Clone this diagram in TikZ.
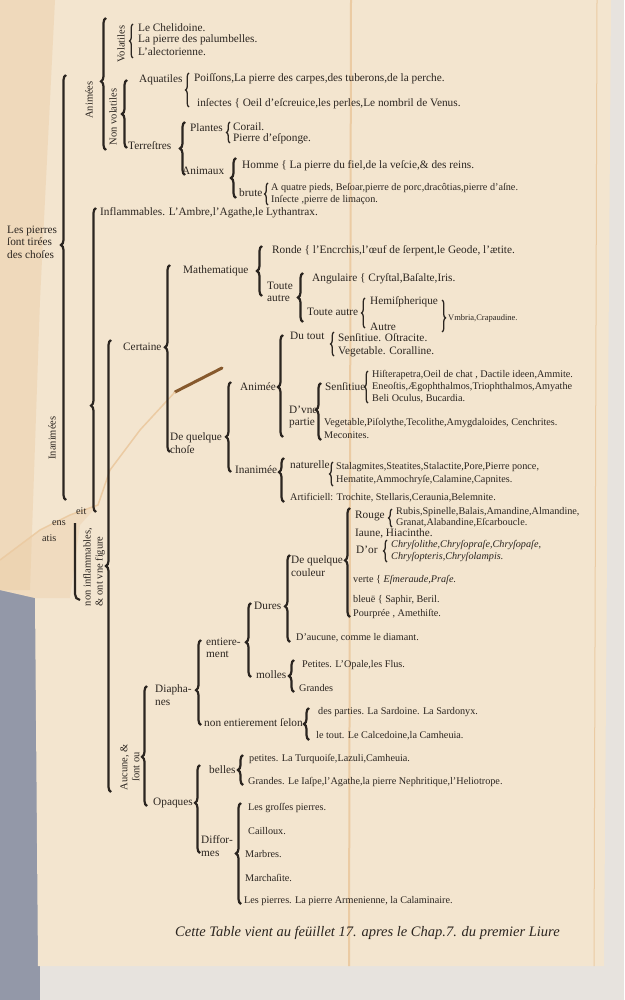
\documentclass[tikz,border=0pt]{standalone}
\usepackage{fontspec}
\setmainfont{Liberation Serif}
\usetikzlibrary{decorations.pathreplacing}

\definecolor{ink}{HTML}{2B2520}
\definecolor{paper}{HTML}{F3E5CF}
\definecolor{stain}{HTML}{EBCBA3}
\definecolor{backgr}{HTML}{E7E3DE}
\definecolor{slate}{HTML}{9398A8}

\tikzset{
  brk/.style={decorate,decoration={brace,amplitude=5pt},line width=2.2pt,draw=ink},
  sbrk/.style={decorate,decoration={brace,amplitude=3.5pt},line width=1.3pt,draw=ink},
  txt/.style={anchor=west,inner sep=0pt,text=ink,align=left,
    font=\fontsize{11.3}{12.5}\selectfont},
  stxt/.style={txt,font=\fontsize{10.2}{11.5}\selectfont},
  rot/.style={inner sep=0pt,text=ink,rotate=90,align=left,
    font=\fontsize{10.5}{12}\selectfont},
}

\begin{document}
\begin{tikzpicture}[x=1pt,y=-1pt]
    \useasboundingbox (0,0) rectangle (624,1000);

%paper
    \fill[backgr] (0,0) rectangle (624,1000);
    \fill[slate] (0,585) rectangle (40,1000);
    \fill[paper] (0,0) -- (611,0) -- (604,966) -- (38,966) -- (35,598)
        -- (0,590) -- cycle;
    \fill[stain,opacity=.45] (0,0) -- (55,0) -- (40,300) -- (30,590) -- (0,590) -- cycle;
    \fill[stain,opacity=.35] (0,560) -- (40,530) -- (70,515) -- (98,505) -- (80,525)
        -- (70,598) -- (35,598) -- (0,590) -- cycle;
    \draw[stain,line width=2pt] (351,0) -- (349,966);
    \draw[stain,line width=1pt] (597,0) -- (594,966);
    \draw[brown!70!black,line width=3pt,line cap=round] (222,368) -- (175,392);
    \draw[stain,line width=1.5pt] (175,392) -- (140,430) -- (110,470) -- (98,505)
        -- (70,515) -- (40,530) -- (0,560);

%brackets
    \coordinate (M1) at (66,500);  \coordinate (M2) at (66,75);
    \coordinate (A1) at (106,150); \coordinate (A2) at (106,18);
    \coordinate (V1) at (133,58);  \coordinate (V2) at (133,24);
    \coordinate (N1) at (127,148); \coordinate (N2) at (127,80);
    \coordinate (Q1) at (189,107); \coordinate (Q2) at (189,73);
    \coordinate (T1) at (185,175); \coordinate (T2) at (185,122);
    \coordinate (P1) at (230,143); \coordinate (P2) at (230,122);
    \coordinate (K1) at (236,198); \coordinate (K2) at (236,158);
    \coordinate (R1) at (268,205); \coordinate (R2) at (268,183);
    \coordinate (I1) at (96,512);  \coordinate (I2) at (96,208);
    \coordinate (I3) at (75,523);  \coordinate (I4) at (75,594);
    \coordinate (I5) at (80,600);
    \coordinate (F1) at (111,792); \coordinate (F2) at (111,340);
    \coordinate (C1) at (170,452); \coordinate (C2) at (170,265);
    \coordinate (H1) at (262,296); \coordinate (H2) at (262,246);
    \coordinate (U1) at (303,322); \coordinate (U2) at (303,273);
    \coordinate (W1) at (365,328); \coordinate (W2) at (365,298);
    \coordinate (W3) at (442,300); \coordinate (W4) at (442,332);
    \coordinate (D1) at (231,472); \coordinate (D2) at (231,382);
    \coordinate (E1) at (283,437); \coordinate (E2) at (283,335);
    \coordinate (O1) at (334,356); \coordinate (O2) at (334,332);
    \coordinate (G1) at (321,440); \coordinate (G2) at (321,383);
    \coordinate (S1) at (368,403); \coordinate (S2) at (368,371);
    \coordinate (J1) at (284,502); \coordinate (J2) at (284,458);
    \coordinate (L1) at (333,486); \coordinate (L2) at (333,462);
    \coordinate (X1) at (350,617); \coordinate (X2) at (350,508);
    \coordinate (Y1) at (392,527); \coordinate (Y2) at (392,509);
    \coordinate (Z1) at (387,562); \coordinate (Z2) at (387,540);
    \coordinate (B1) at (290,642); \coordinate (B2) at (290,555);
    \coordinate (B3) at (251,677); \coordinate (B4) at (251,603);
    \coordinate (B5) at (294,692); \coordinate (B6) at (294,660);
    \coordinate (B7) at (201,725); \coordinate (B8) at (201,640);
    \coordinate (B9) at (309,740); \coordinate (B10) at (309,708);
    \coordinate (K3) at (147,806); \coordinate (K4) at (147,686);
    \coordinate (K5) at (200,853); \coordinate (K6) at (200,765);
    \coordinate (K7) at (243,785); \coordinate (K8) at (243,755);
    \coordinate (K9) at (241,904); \coordinate (K10) at (241,803);

    \draw[brk,decoration={aspect=.6}] (M1) -- (M2);
    \draw[brk,decoration={aspect=.52}] (A1) -- (A2);
    \draw[sbrk] (V1) -- (V2);
    \draw[brk] (N1) -- (N2);
    \draw[sbrk] (Q1) -- (Q2);
    \draw[brk] (T1) -- (T2);
    \draw[sbrk] (P1) -- (P2);
    \draw[brk] (K1) -- (K2);
    \draw[sbrk] (R1) -- (R2);
    \draw[brk,decoration={aspect=.35}] (I1) -- (I2);
    \draw[ink,line width=2.2pt] (I3) -- (I4) to[out=-90,in=180] (I5);
    \draw[brk,decoration={aspect=.5}] (F1) -- (F2);
    \draw[brk,decoration={aspect=.56}] (C1) -- (C2);
    \draw[brk] (H1) -- (H2);
    \draw[brk] (U1) -- (U2);
    \draw[sbrk] (W1) -- (W2);
    \draw[sbrk,decoration={aspect=.56}] (W3) -- (W4);
    \draw[brk,decoration={aspect=.39}] (D1) -- (D2);
    \draw[brk,decoration={aspect=.49}] (E1) -- (E2);
    \draw[sbrk] (O1) -- (O2);
    \draw[brk,decoration={aspect=.53}] (G1) -- (G2);
    \draw[sbrk] (S1) -- (S2);
    \draw[brk,decoration={aspect=.68}] (J1) -- (J2);
    \draw[sbrk] (L1) -- (L2);
    \draw[brk,decoration={aspect=.52}] (X1) -- (X2);
    \draw[sbrk] (Y1) -- (Y2);
    \draw[sbrk] (Z1) -- (Z2);
    \draw[brk,decoration={aspect=.41}] (B1) -- (B2);
    \draw[brk,decoration={aspect=.47}] (B3) -- (B4);
    \draw[brk] (B5) -- (B6);
    \draw[brk,decoration={aspect=.41}] (B7) -- (B8);
    \draw[brk] (B9) -- (B10);
    \draw[brk,decoration={aspect=.41}] (K3) -- (K4);
    \draw[brk,decoration={aspect=.57}] (K5) -- (K6);
    \draw[brk] (K7) -- (K8);
    \draw[brk,decoration={aspect=.5}] (K9) -- (K10);

%labels
    \node[txt] (root) at (7,242) {Les pierres\\ſont tirées\\des choſes};
    \node[rot] (anim) at (89,100) {Animées};
    \node[rot] (volat) at (121,44) {Volatiles};
    \node[txt] (chel) at (138,28) {Le Chelidoine.};
    \node[txt] (palum) at (138,40) {La pierre des palumbelles.};
    \node[txt] (alec) at (138,52) {L'alectorienne.};
    \node[rot] (nonvol) at (113,117) {Non volatiles};
    \node[txt] (aqua) at (139,80) {Aquatiles};
    \node[txt] (poiss) at (194,79) {Poiſſons,La pierre des carpes,des tuberons,de la perche.};
    \node[txt] (insec) at (197,104) {inſectes \{ Oeil d'eſcreuice,les perles,Le nombril de Venus.};
    \node[txt] (terr) at (128,146) {Terreſtres};
    \node[txt] (plant) at (190,128) {Plantes};
    \node[txt] (corail) at (233,127) {Corail.};
    \node[txt] (esp) at (233,139) {Pierre d'eſponge.};
    \node[txt] (animx) at (182,171) {Animaux};
    \node[txt] (homme) at (242,166) {Homme \{ La pierre du fiel,de la veſcie,\& des reins.};
    \node[txt] (brute) at (239,193) {brute};
    \node[stxt] (quatre) at (271,188) {A quatre pieds, Beſoar,pierre de porc,dracôtias,pierre d'aſne.};
    \node[stxt] (limac) at (271,200) {Inſecte ,pierre de limaçon.};
    \node[rot] (inan) at (52,438) {Inanimées};
    \node[txt] (infl) at (100,213) {Inflammables. L'Ambre,l'Agathe,le Lythantrax.};
    \node[rot] (noninf) at (94,567) {non inflammables,\\\& ont vne figure};
    \node[stxt] (frag1) at (76,511) {eit};
    \node[stxt] (frag2) at (52,523) {ens};
    \node[stxt] (frag3) at (42,538) {atis};
    \node[txt] (cert) at (123,347) {Certaine};
    \node[txt] (math) at (183,271) {Mathematique};
    \node[txt] (ronde) at (272,251) {Ronde \{ l'Encrchis,l'œuf de ſerpent,le Geode, l'ætite.};
    \node[txt] (toute) at (267,292) {Toute\\autre};
    \node[txt] (angul) at (312,279) {Angulaire \{ Cryſtal,Baſalte,Iris.};
    \node[txt] (toute2) at (307,312) {Toute autre};
    \node[txt] (hemis) at (370,302) {Hemiſpherique};
    \node[txt] (autre) at (370,327) {Autre};
    \node[stxt,font=\fontsize{8.5}{10}\selectfont] (vmbr) at (448,318) {Vmbria,Crapaudine.};
    \node[txt] (quelq) at (170,443) {De quelque\\choſe};
    \node[txt] (animee) at (240,387) {Animée};
    \node[txt] (dutout) at (290,336) {Du tout};
    \node[txt] (senso) at (338,338) {Senſitiue. Oſtracite.};
    \node[txt] (vegc) at (338,352) {Vegetable. Coralline.};
    \node[txt] (partie) at (289,417) {D'vne\\partie};
    \node[txt] (sens) at (325,387) {Senſitiue};
    \node[stxt] (hist) at (372,375) {Hiſterapetra,Oeil de chat , Dactile ideen,Ammite.};
    \node[stxt] (eneo) at (372,387) {Eneoſtis,Ægophthalmos,Triophthalmos,Amyathe};
    \node[stxt] (beli) at (372,399) {Beli Oculus, Bucardia.};
    \node[stxt] (vegp) at (324,423) {Vegetable,Piſolythe,Tecolithe,Amygdaloides, Cenchrites.};
    \node[stxt] (mecon) at (324,435) {Meconites.};
    \node[txt] (inanee) at (235,470) {Inanimée};
    \node[txt] (natur) at (290,465) {naturelle};
    \node[stxt] (stal) at (336,467) {Stalagmites,Steatites,Stalactite,Pore,Pierre ponce,};
    \node[stxt] (hema) at (336,480) {Hematite,Ammochryſe,Calamine,Capnites.};
    \node[stxt] (artif) at (290,498) {Artificiell: Trochite, Stellaris,Ceraunia,Belemnite.};
    \node[txt] (coul) at (291,566) {De quelque\\couleur};
    \node[txt] (rouge) at (355,516) {Rouge};
    \node[stxt] (rubis) at (396,512) {Rubis,Spinelle,Balais,Amandine,Almandine,};
    \node[stxt] (granat) at (396,523) {Granat,Alabandine,Eſcarboucle.};
    \node[txt] (iaune) at (355,533) {Iaune, Hiacinthe.};
    \node[txt] (dor) at (356,550) {D'or};
    \node[stxt] (chry1) at (391,545) {\itshape Chryſolithe,Chryſopraſe,Chryſopaſe,};
    \node[stxt] (chry2) at (391,557) {\itshape Chryſopteris,Chryſolampis.};
    \node[stxt] (verte) at (353,580) {verte \{ \itshape Eſmeraude,Praſe.};
    \node[stxt] (bleue) at (353,600) {bleuë \{ Saphir, Beril.};
    \node[stxt] (pourp) at (353,614) {Pourprée , Amethiſte.};
    \node[txt] (dures) at (254,606) {Dures};
    \node[stxt] (diam) at (296,638) {D'aucune, comme le diamant.};
    \node[txt] (entier) at (206,648) {entiere-\\ment};
    \node[txt] (molles) at (256,675) {molles};
    \node[stxt] (petit) at (302,665) {Petites. L'Opale,les Flus.};
    \node[stxt] (grand) at (299,688) {Grandes};
    \node[txt] (diaph) at (155,695) {Diapha-\\nes};
    \node[txt] (selon) at (204,723) {non entierement ſelon};
    \node[stxt] (parti) at (318,712) {des parties. La Sardoine. La Sardonyx.};
    \node[stxt] (letout) at (316,736) {le tout. Le Calcedoine,la Camheuia.};
    \node[rot,align=center] (aucune) at (130,767) {Aucune, \&\\ſont ou};
    \node[txt] (opaq) at (153,803) {Opaques};
    \node[txt] (belles) at (209,770) {belles};
    \node[stxt] (turq) at (249,759) {petites. La Turquoiſe,Lazuli,Camheuia.};
    \node[stxt] (iaspe) at (248,782) {Grandes. Le Iaſpe,l'Agathe,la pierre Nephritique,l'Heliotrope.};
    \node[txt] (diff) at (201,846) {Diffor-\\mes};
    \node[stxt] (gross) at (248,808) {Les groſſes pierres.};
    \node[stxt] (caill) at (248,831) {Cailloux.};
    \node[stxt] (marb) at (245,854) {Marbres.};
    \node[stxt] (march) at (245,878) {Marchaſite.};
    \node[stxt] (armen) at (244,901) {Les pierres. La pierre Armenienne, la Calaminaire.};
    \node[txt,font=\fontsize{14.5}{16}\selectfont\itshape] (note) at (175,933)
        {Cette Table vient au feüillet 17. apres le Chap.7. du premier Liure};

\end{tikzpicture}
\end{document}
